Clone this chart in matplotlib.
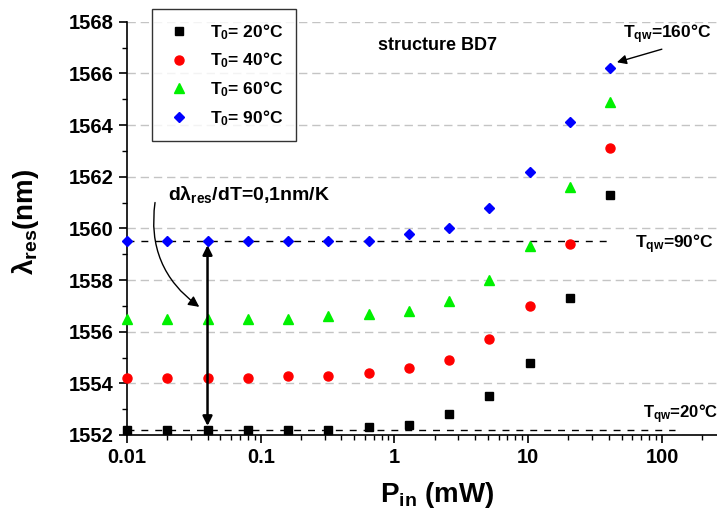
import matplotlib
matplotlib.use("Agg")
import matplotlib.pyplot as plt
from matplotlib.ticker import MultipleLocator, LogLocator, FixedLocator, NullFormatter

plt.rcParams['font.family'] = ['Liberation Sans', 'DejaVu Sans']
plt.rcParams['font.weight'] = 'bold'
plt.rcParams['mathtext.fontset'] = 'custom'
plt.rcParams['mathtext.rm'] = 'Liberation Sans:bold'
plt.rcParams['mathtext.it'] = 'Liberation Sans:bold'
plt.rcParams['mathtext.bf'] = 'Liberation Sans:bold'
plt.rcParams['mathtext.default'] = 'rm'

# Data
p_in = [0.01, 0.02, 0.04, 0.08, 0.16, 0.32, 0.64, 1.28, 2.56, 5.12, 10.24, 20.48, 40.96]
lam_20 = [1552.2, 1552.2, 1552.2, 1552.2, 1552.2, 1552.2, 1552.3, 1552.4, 1552.8, 1553.5, 1554.8, 1557.3, 1561.3]
lam_40 = [1554.2, 1554.2, 1554.2, 1554.2, 1554.3, 1554.3, 1554.4, 1554.6, 1554.9, 1555.7, 1557.0, 1559.4, 1563.1]
lam_60 = [1556.5, 1556.5, 1556.5, 1556.5, 1556.5, 1556.6, 1556.7, 1556.8, 1557.2, 1558.0, 1559.3, 1561.6, 1564.9]
lam_90 = [1559.5, 1559.5, 1559.5, 1559.5, 1559.5, 1559.5, 1559.5, 1559.8, 1560.0, 1560.8, 1562.2, 1564.1, 1566.2]
labels = ['T$_{0}$= 20°C', 'T$_{0}$= 40°C', 'T$_{0}$= 60°C', 'T$_{0}$= 90°C']
ref_90 = 1559.5
ref_20 = 1552.2

fig = plt.figure(figsize=(7.17, 5.13), dpi=100)
ax = fig.add_axes([127/717, 1-435/513, 1-127/717, (435-21.7)/513])

ax.set_xscale('log')
ax.set_xlim(0.01, 258)
ax.set_ylim(1552, 1568)

for y in range(1552, 1569, 2):
    ax.axhline(y, color='#c4c4c4', lw=1.0, ls=(0, (6, 3.5)), zorder=0)

ax.plot([0.01, 42], [ref_90, ref_90], color='black', lw=1.0, ls=(0, (5, 5)), zorder=1)
ax.plot([0.01, 125], [ref_20, ref_20], color='black', lw=1.0, ls=(0, (5, 5)), zorder=1)

ax.plot(p_in, lam_20, ls='none', marker='s', ms=5.2, color='black', label=labels[0], zorder=3, clip_on=False)
ax.plot(p_in, lam_40, ls='none', marker='o', ms=6.5, color='red', label=labels[1], zorder=3, clip_on=False)
ax.plot(p_in, lam_60, ls='none', marker='^', ms=7, color='#00f000', label=labels[2], zorder=3, clip_on=False)
ax.plot(p_in, lam_90, ls='none', marker='D', ms=5.3, color='blue', label=labels[3], zorder=3, clip_on=False)

for s in ['top', 'right']:
    ax.spines[s].set_visible(False)
for s in ['left', 'bottom']:
    ax.spines[s].set_linewidth(1.2)

ax.yaxis.set_major_locator(MultipleLocator(2))
ax.yaxis.set_minor_locator(MultipleLocator(1))
ax.xaxis.set_major_locator(FixedLocator([0.01, 0.1, 1, 10, 100]))
ax.xaxis.set_major_formatter(plt.FuncFormatter(lambda v, p: {0.01: '0.01', 0.1: '0.1', 1: '1', 10: '10', 100: '100'}.get(round(v, 3), '')))
ax.xaxis.set_minor_locator(LogLocator(base=10, subs=range(2, 10), numticks=20))
ax.xaxis.set_minor_formatter(NullFormatter())
ax.tick_params(which='major', direction='out', length=6, width=1.2, labelsize=14.5)
ax.tick_params(which='minor', direction='out', length=3.5, width=1.0)

ax.set_xlabel('P$_{\\mathregular{in}}$ (mW)', fontsize=20, fontweight='bold')
ax.xaxis.set_label_coords(0.525, -0.11)
ax.set_ylabel('λ$_{\\mathregular{res}}$(nm)', fontsize=20, fontweight='bold')
ax.yaxis.set_label_coords(-0.146, 0.515)

leg = ax.legend(loc='upper left', bbox_to_anchor=(152/717, 1-9/513), bbox_transform=fig.transFigure,
                frameon=True, fancybox=False, edgecolor='black', fontsize=12.5, labelspacing=0.52,
                handletextpad=1.0, borderpad=0.75, handlelength=1.6, borderaxespad=0)
leg.get_frame().set_linewidth(1.0)

ax.text(0.75, 1567.06, 'structure BD7', fontsize=13, fontweight='bold', ha='left', va='center')

ax.annotate('T$_{\\mathregular{qw}}$=160°C', xy=(44, 1566.4), xytext=(51, 1567.5),
            fontsize=12.5, fontweight='bold', ha='left', va='center',
            arrowprops=dict(arrowstyle='-|>', color='black', lw=1.0, mutation_scale=14,
                            shrinkA=0, shrinkB=2, relpos=(0.55, 0.0)))
ax.text(63, 1559.4, 'T$_{\\mathregular{qw}}$=90°C', fontsize=12.5, fontweight='bold', ha='left', va='center')
ax.text(72, 1552.8, 'T$_{\\mathregular{qw}}$=20°C', fontsize=12, fontweight='bold', ha='left', va='center')

ax.text(0.0203, 1561.3, 'dλ$_{\\mathregular{res}}$/dT=0,1nm/K', fontsize=14, fontweight='bold', ha='left', va='center')
ax.annotate('', xy=(0.0347, 1556.96), xytext=(0.0162, 1561.0),
            arrowprops=dict(arrowstyle='-|>', color='black', lw=1.0, mutation_scale=16,
                            connectionstyle='arc3,rad=0.3', shrinkA=0, shrinkB=0))
ax.annotate('', xy=(0.04, 1552.35), xytext=(0.04, 1559.35),
            arrowprops=dict(arrowstyle='<|-|>', color='black', lw=1.8, mutation_scale=14,
                            shrinkA=0, shrinkB=0))

fig.savefig('out.png', dpi=100)
